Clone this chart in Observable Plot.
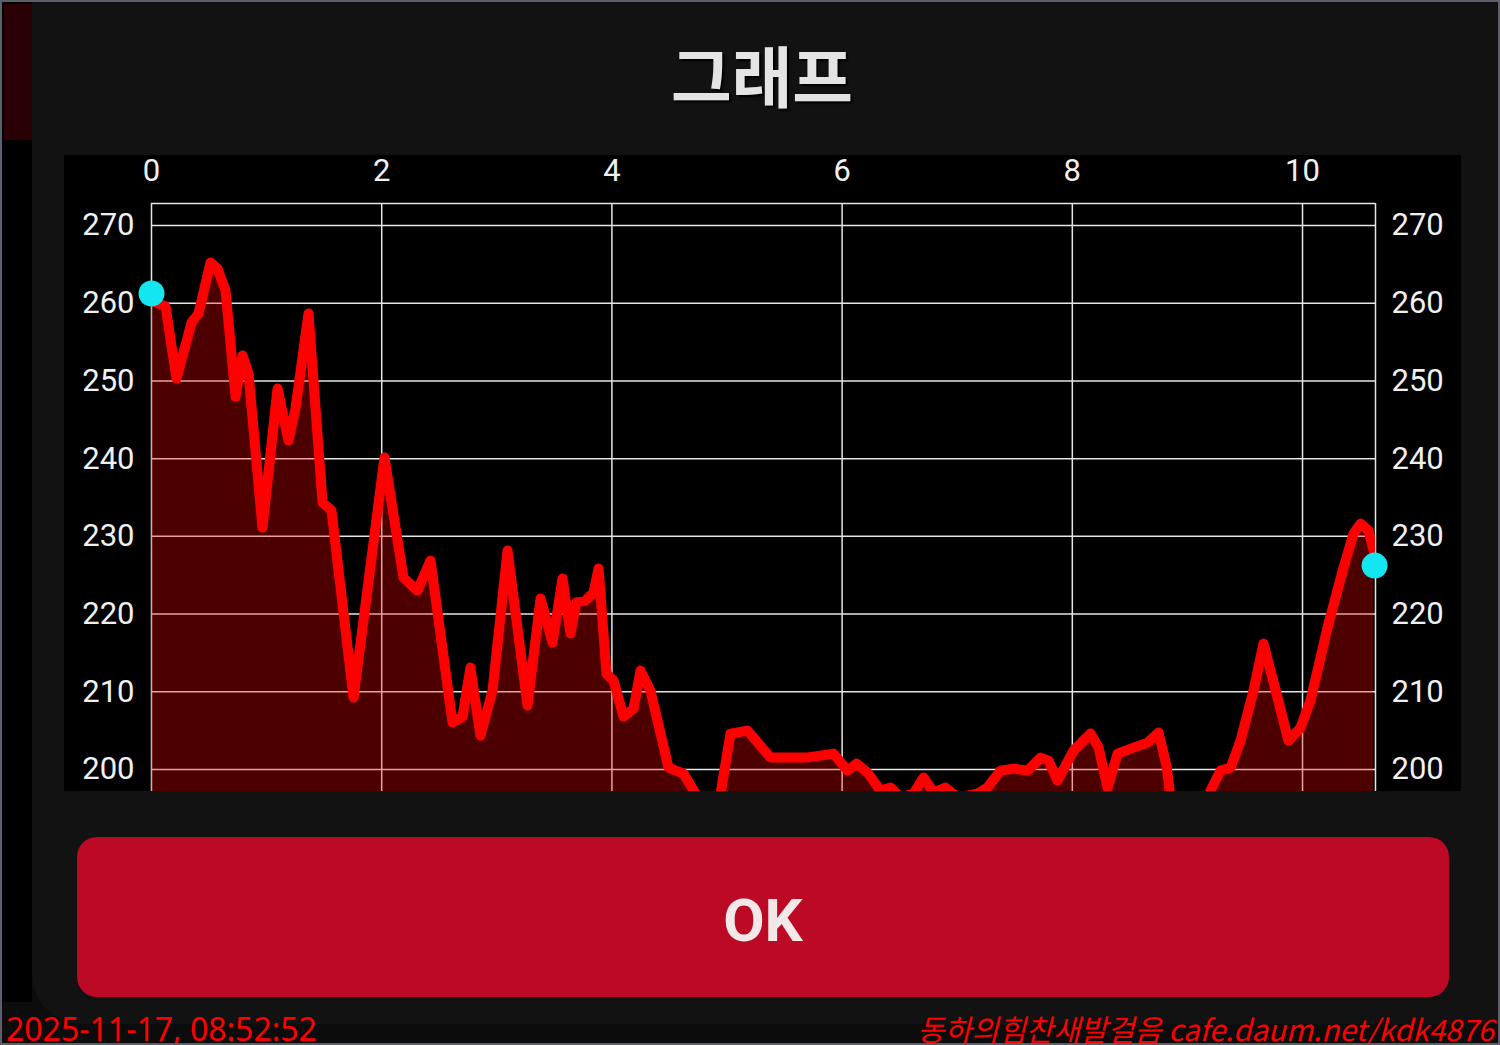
<!DOCTYPE html>
<html><head><meta charset="utf-8">
<script src="https://cdn.jsdelivr.net/npm/d3@7"></script>
<script src="https://cdn.jsdelivr.net/npm/@observablehq/plot@0.6"></script>
<style>
html,body{margin:0;padding:0;background:#000;}
#page{position:relative;width:1500px;height:1045px;overflow:hidden;background:#0c0c0c;box-sizing:border-box;border:2px solid #5e5e6c;}
#leftblack{position:absolute;left:0;top:0;width:30px;height:1000px;background:#000;}
#strip{position:absolute;left:2px;top:2px;width:28px;height:136px;background:#2a0006;}
#panel{position:absolute;left:30px;top:0;width:1470px;height:1022px;background:#121212;border-bottom-left-radius:50px;}
#title{position:absolute;left:10px;width:1500px;top:26px;text-align:center;font-family:"Noto Sans CJK KR";font-weight:700;font-size:66px;line-height:90px;color:#e4e4e4;text-shadow:2px 2px 2px #000;}
#chart{position:absolute;left:62px;top:153px;}
#okbg{position:absolute;left:75px;top:835px;width:1372px;height:160px;border-radius:20px;background:#bb0926;}
#ok{position:absolute;left:75px;top:839px;width:1372px;height:160px;color:#f3e8e8;font-family:Roboto;font-weight:700;font-size:60px;line-height:160px;text-align:center;}
#stamp{position:absolute;left:4px;top:1005px;font-family:"Noto Sans";font-size:32px;color:#ff0000;line-height:44px;}
#sign{position:absolute;right:4px;top:1004px;font-family:"Noto Sans CJK KR";font-style:italic;font-size:29.5px;color:#ff0000;line-height:44px;}
</style></head>
<body>
<div id="page">
<div id="leftblack"></div>
<div id="panel"></div>
<div id="strip"></div>
<div id="title">그래프</div>
<div id="chart"></div>
<div id="okbg"></div>
<div id="ok">OK</div>
<div id="stamp">2025-11-17, 08:52:52</div>
<div id="sign">동하의힘찬새발걸음 cafe.daum.net/kdk4876</div>
</div>
<script>
const times = [0,0.122,0.217,0.348,0.408,0.513,0.573,0.643,0.730,0.791,
0.843,0.964,1.095,1.190,1.251,1.364,1.486,1.564,1.755,2.024,
2.189,2.311,2.424,2.615,2.702,2.771,2.858,2.963,3.093,3.267,
3.380,3.484,3.571,3.640,3.692,3.771,3.840,3.884,3.953,4.014,
4.101,4.188,4.248,4.335,4.492,4.622,4.726,4.83,4.944,5.030,
5.178,5.378,5.526,5.682,5.812,5.925,6.047,6.125,6.221,6.334,
6.421,6.507,6.620,6.707,6.794,6.898,7.003,7.177,7.263,7.376,
7.489,7.611,7.724,7.793,7.871,8.010,8.158,8.228,8.306,8.393,
8.532,8.653,8.749,8.818,8.853,8.94,9.114,9.201,9.288,9.375,
9.461,9.574,9.661,9.783,9.878,9.983,10.069,10.217,10.356,10.443,
10.504,10.573,10.617];
const values = [260.35,259.58,250.31,257.52,258.67,265.24,264.47,261.63,247.99,253.27,
250.95,231.13,249.02,242.33,246.45,258.67,234.35,233.32,209.25,240.14,
224.70,223.02,226.89,206.04,206.8,213.11,204.36,210.2,228.17,208.22,
222.0,216.33,224.57,217.49,221.5,221.74,222.77,225.86,212.34,211.44,
206.81,207.84,212.73,210.15,200.24,199.47,196.9,194.1,196.9,204.62,
205.01,201.53,201.53,201.53,201.79,202.05,199.86,200.76,199.6,197.28,
197.68,196.4,196.9,198.96,197.03,197.68,196.4,196.9,197.68,199.86,
200.12,199.86,201.53,201.15,198.57,202.43,204.62,202.82,197.68,202.05,
202.82,203.46,204.75,200.5,196.4,192.1,194.1,197.3,199.86,200.24,
203.7,210.15,216.2,209.25,203.7,205.4,208.87,218.26,225.98,230.36,
231.64,230.74,228.17];
const markerTimes = [0, 10.626];
const markerValues = [261.25, 226.24];
const xTicks = [0, 2, 4, 6, 8, 10];
const yTicks = [200, 210, 220, 230, 240, 250, 260, 270];
const xDomain = [0, 10.634];
const yDomain = [197.17, 272.83];

const series = times.map((t, i) => ({t, v: values[i]}));
const markers = markerTimes.map((t, i) => ({t, v: markerValues[i]}));

const chart = Plot.plot({
  width: 1397, height: 636,
  marginLeft: 87, marginRight: 86, marginTop: 48, marginBottom: 0,
  style: {background: "#000", color: "#f0f0f0", fontFamily: "Roboto", fontSize: "31px", overflow: "visible"},
  x: {domain: xDomain, label: null},
  y: {domain: yDomain, label: null},
  marks: [
    Plot.gridX(xTicks, {stroke: "#e6e6e6", strokeOpacity: 1, strokeWidth: 1.5}),
    Plot.gridY(yTicks, {stroke: "#e6e6e6", strokeOpacity: 1, strokeWidth: 1.5}),
    Plot.ruleY([yDomain[1]], {stroke: "#e6e6e6", strokeWidth: 1.5}),
    Plot.ruleX([xDomain[1]], {stroke: "#e6e6e6", strokeWidth: 1.5}),
    Plot.areaY(series, {x: "t", y: "v", fill: "#ff0000", fillOpacity: 0.3, curve: "linear", clip: true}),
    Plot.line(series, {x: "t", y: "v", stroke: "#ff0000", strokeWidth: 10, strokeLinejoin: "round", strokeLinecap: "round", clip: true}),
    Plot.dot(markers, {x: "t", y: "v", r: 13, fill: "#14e6ef", stroke: null}),
    Plot.axisX(xTicks, {anchor: "top", tickSize: 0, tickPadding: 23, fontSize: 31, tickFormat: "d", label: null}),
    Plot.axisY(yTicks, {anchor: "left", tickSize: 0, tickPadding: 17, fontSize: 31, tickFormat: "d", label: null}),
    Plot.axisY(yTicks, {anchor: "right", tickSize: 0, tickPadding: 16, fontSize: 31, tickFormat: "d", label: null})
  ]
});
document.getElementById("chart").appendChild(chart);
</script>
</body></html>
